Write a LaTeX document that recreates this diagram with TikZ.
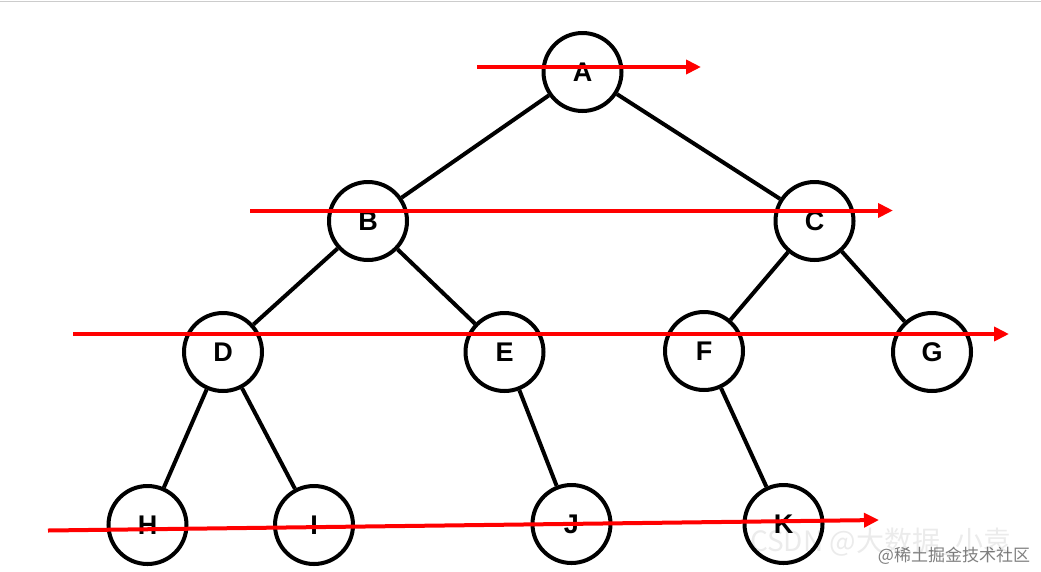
\documentclass[tikz,border=0pt]{standalone}
\usepackage{fontspec}
\setmainfont{Liberation Sans}
\newfontfamily\cjk{Noto Sans CJK SC}
\usetikzlibrary{arrows.meta}
\begin{document}
\begin{tikzpicture}[x=1pt,y=-1pt,
  tn/.style={circle,draw=black,line width=4pt,minimum size=78pt,inner sep=0pt,fill=white,
    font=\fontsize{27}{27}\selectfont\bfseries},
  edge/.style={draw=black,line width=4pt},
  scan/.style={draw=red,line width=4pt,-{Triangle[length=15pt,width=14pt]}},
  topline/.style={draw=black!20,line width=1.5pt},
  wm/.style={font=\cjk\fontsize{28}{28}\selectfont,text=black,opacity=0.08},
  wm2/.style={font=\cjk\fontsize{17}{17}\selectfont,text=black,opacity=0.5}]
\useasboundingbox (0,0) rectangle (1041,571);
\fill[white] (0,0) rectangle (1041,571);
\coordinate (tl) at (0,1.5);
\coordinate (tr) at (1041,1.5);
\draw[topline] (tl) -- (tr);
% nodes
\node[tn] (A) at (582.5,72) {A};
\node[tn] (B) at (368,221) {B};
\node[tn] (C) at (814.5,221) {C};
\node[tn] (D) at (223,352) {D};
\node[tn] (E) at (504.5,352) {E};
\node[tn] (F) at (704,351) {F};
\node[tn] (G) at (932,352) {G};
\node[tn] (H) at (147.5,525) {H};
\node[tn] (I) at (314,525) {I};
\node[tn] (J) at (571.5,524) {J};
\node[tn] (K) at (783.5,524) {K};
% edges
\draw[edge] (A) -- (B);
\draw[edge] (A) -- (C);
\draw[edge] (B) -- (D);
\draw[edge] (B) -- (E);
\draw[edge] (C) -- (F);
\draw[edge] (C) -- (G);
\draw[edge] (D) -- (H);
\draw[edge] (D) -- (I);
\draw[edge] (E) -- (J);
\draw[edge] (F) -- (K);
% level-order scan arrows
\coordinate (s1) at (477,67);  \coordinate (e1) at (701,67);
\coordinate (s2) at (250,210.5); \coordinate (e2) at (893,210.5);
\coordinate (s3) at (73,334);  \coordinate (e3) at (1009,334);
\coordinate (s4) at (48,530.5);  \coordinate (e4) at (879,520);
\draw[scan] (s1) -- (e1);
\draw[scan] (s2) -- (e2);
\draw[scan] (s3) -- (e3);
\draw[scan] (s4) -- (e4);
% watermarks
\node[wm] (w1) at (881,542) {CSDN @大数据\_小袁};
\node[wm2] (w2) at (954,556) {@稀土掘金技术社区};
\end{tikzpicture}
\end{document}
